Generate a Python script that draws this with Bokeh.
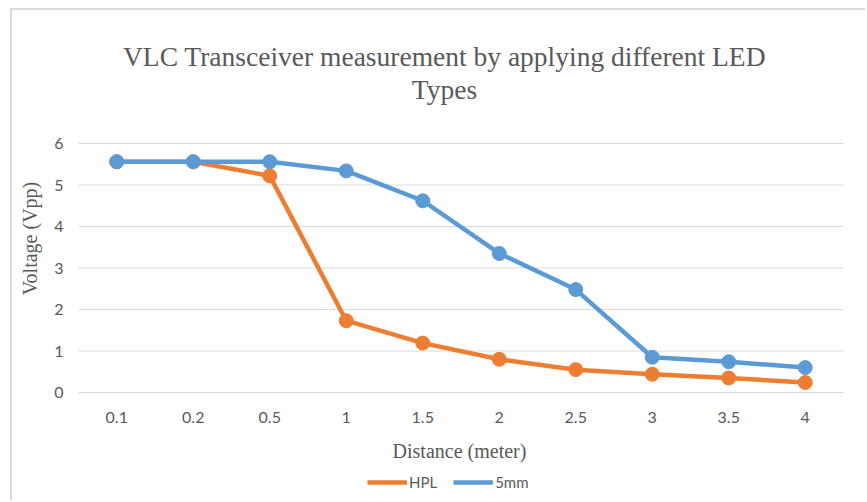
import math
from bokeh.plotting import figure
from bokeh.models import Range1d, Legend, LegendItem, Label
from bokeh.core.properties import value
from bokeh.embed import file_html
from bokeh.resources import INLINE

# ---- data ----
distance = ["0.1", "0.2", "0.5", "1", "1.5", "2", "2.5", "3", "3.5", "4"]
hpl = [5.56, 5.56, 5.22, 1.73, 1.19, 0.80, 0.55, 0.44, 0.35, 0.24]
mm5 = [5.56, 5.56, 5.56, 5.34, 4.62, 3.35, 2.48, 0.85, 0.74, 0.60]
y_ticks = [0, 1, 2, 3, 4, 5, 6]
y_tick_labels = [str(t) for t in y_ticks]

# ---- style / layout ----
ORANGE = "#ED7D31"
BLUE = "#5B9BD5"
GRID = "#D9D9D9"
TEXT = "#595959"
W, H = 855, 492                      # canvas (chart box inside a light border)
PL, PR, PT, PB = 66, 831, 133, 382   # plot area in canvas pixels
n = len(distance)
idx = list(range(n))
px_cat = (PR - PL) / n
px_unit = (PB - PT) / (y_ticks[-1] - y_ticks[0])

x_range = Range1d(-0.5 - PL / px_cat, n - 0.5 + (W - PR) / px_cat)
y_range = Range1d(y_ticks[0] - (H - PB) / px_unit, y_ticks[-1] + PT / px_unit)

p = figure(width=W, height=H, x_range=x_range, y_range=y_range,
           output_backend="svg", toolbar_location=None, title=None,
           x_axis_location=None, y_axis_location=None,
           min_border_left=0, min_border_right=0, min_border_top=0, min_border_bottom=0)
p.styles = {"margin-left": "10px", "margin-top": "8px",
            "border-left": "2px solid #D9D9D9", "border-top": "2px solid #D9D9D9"}
p.outline_line_color = None
p.grid.visible = False
p.background_fill_color = "white"
p.border_fill_color = "white"

# horizontal gridlines across the plot area
p.segment(x0=[-0.5] * len(y_ticks), x1=[n - 0.5] * len(y_ticks), y0=y_ticks, y1=y_ticks,
          line_color=GRID, line_width=1)

# tick labels
p.text(x=idx, y=[y_ticks[0]] * n, text=distance, y_offset=25,
       text_font=value("Lato"), text_font_size="16px", text_color=TEXT,
       text_align="center", text_baseline="middle")
p.text(x=[-0.5] * len(y_ticks), y=y_ticks, text=y_tick_labels, x_offset=-15,
       text_font=value("Lato"), text_font_size="16px", text_color=TEXT,
       text_align="right", text_baseline="middle")

# series
l1 = p.line(idx, hpl, line_color=ORANGE, line_width=4.5)
p.scatter(idx, hpl, size=14, fill_color=ORANGE, line_color=ORANGE)
l2 = p.line(idx, mm5, line_color=BLUE, line_width=4.5)
p.scatter(idx, mm5, size=14, fill_color=BLUE, line_color=BLUE)

legend = Legend(items=[LegendItem(label="HPL", renderers=[l1]), LegendItem(label="5mm", renderers=[l2])],
                orientation="horizontal", location=(355, 11),
                label_text_font="Lato", label_text_font_size="15px", label_text_color=TEXT,
                glyph_width=40, glyph_height=18, label_standoff=2, spacing=16,
                margin=0, padding=6, border_line_color=None, background_fill_alpha=0)
p.add_layout(legend)

serif = dict(x_units="screen", y_units="screen", text_font="Liberation Serif",
             text_color=TEXT, text_align="center")
p.add_layout(Label(x=432, y=H - 46, text="VLC Transceiver measurement by applying different LED",
                   text_font_size="27.5px", text_baseline="alphabetic", **serif))
p.add_layout(Label(x=432, y=H - 79, text="Types",
                   text_font_size="27.5px", text_baseline="alphabetic", **serif))
p.add_layout(Label(x=447, y=H - 440, text="Distance (meter)",
                   text_font_size="20px", text_baseline="middle", **serif))
p.add_layout(Label(x=17, y=H - 228, text="Voltage (Vpp)", angle=math.pi / 2,
                   text_font_size="20px", text_baseline="middle", **serif))

open("out.html", "w").write(file_html(p, INLINE))
